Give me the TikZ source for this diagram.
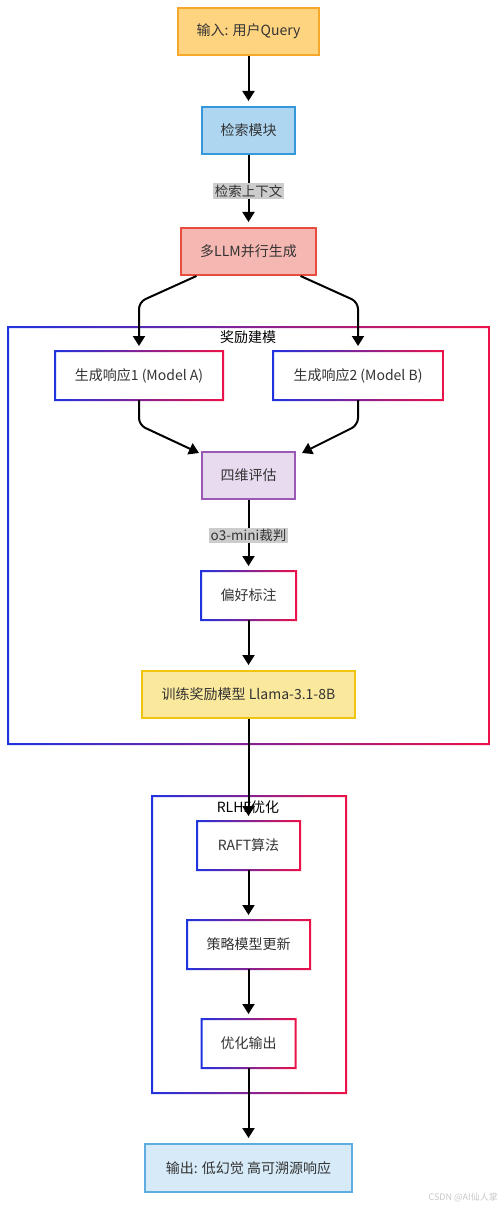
\documentclass[tikz,border=0pt]{standalone}
\usepackage{fontspec}
\setmainfont{Noto Sans CJK SC}
\usepackage{tikz}
\usetikzlibrary{calc}
\usetikzlibrary{arrows.meta}
\definecolor{textgray}{HTML}{333333}
\definecolor{gblue}{HTML}{1F33E0}
\definecolor{gred}{HTML}{EC1248}
\definecolor{labelgray}{HTML}{CCCCCC}
\def\thickness{2pt}
\tikzset{block/.style={rectangle, line width=\thickness, minimum height=47pt,
    inner sep=2pt, text=textgray, font=\fontsize{14pt}{16pt}\selectfont}}
\tikzset{plain block/.style={block, fill=white}}
\tikzset{flow/.style={line width=\thickness, -{Triangle[length=10pt,width=12pt]},
    shorten >=5pt}}
\tikzset{edge label/.style={fill=labelgray, inner sep=1.5pt, text=textgray,
    font=\fontsize{13.5pt}{15pt}\selectfont}}
\tikzset{frame title/.style={text=black, inner sep=1pt,
    font=\fontsize{14pt}{16pt}\selectfont}}
% ring shaded blue -> red, between two corners
\newcommand\gradframe[2]{%
  \shade[left color=gblue, right color=gred, even odd rule]
    ($(#1)+(-1pt,-1pt)$) rectangle ($(#2)+(1pt,1pt)$)
    ($(#1)+(1pt,1pt)$) rectangle ($(#2)+(-1pt,-1pt)$);}

\begin{document}
\begin{tikzpicture}[x=1pt,y=-1pt]

\useasboundingbox (0,0) rectangle (500,1206);

%% frames
\coordinate (rm_sw) at (8,744);
\coordinate (rm_ne) at (489,327);
\coordinate (rl_sw) at (152,1093);
\coordinate (rl_ne) at (346,796);
\gradframe{rm_sw}{rm_ne}
\gradframe{rl_sw}{rl_ne}
\node[frame title] (rm_title) at (248,337) {奖励建模};
\node[frame title] (rl_title) at (248,807) {RLHF优化};

%% top chain
\node[block, fill={rgb,255:red,255;green,212;blue,128}, draw={rgb,255:red,247;green,168;blue,40},
  minimum width=141pt] (input) at (248.5,31.5) {输入: 用户Query};
\node[block, fill={rgb,255:red,174;green,214;blue,241}, draw={rgb,255:red,52;green,152;blue,219},
  minimum width=93pt] (retrieve) at (248.5,130.5) {检索模块};
\node[block, fill={rgb,255:red,245;green,183;blue,177}, draw={rgb,255:red,231;green,76;blue,60},
  minimum width=135pt] (llm) at (248.5,251.5) {多LLM并行生成};

%% reward modelling
\node[plain block, minimum width=166pt] (resp_a) at (139,375.5) {生成响应1 (Model A)};
\node[plain block, minimum width=168pt] (resp_b) at (358,375.5) {生成响应2 (Model B)};
\node[block, fill={rgb,255:red,232;green,218;blue,239}, draw={rgb,255:red,155;green,89;blue,182},
  minimum width=93pt] (eval) at (248.5,475.5) {四维评估};
\node[plain block, minimum width=93pt] (pref) at (248.5,595.5) {偏好标注};
\node[block, fill={rgb,255:red,250;green,232;blue,157}, draw={rgb,255:red,241;green,196;blue,15},
  minimum width=213pt] (train) at (248.5,694.5) {训练奖励模型 Llama-3.1-8B};
\gradframe{resp_a.south west}{resp_a.north east}
\gradframe{resp_b.south west}{resp_b.north east}
\gradframe{pref.south west}{pref.north east}

%% RLHF
\node[plain block, minimum width=101pt] (raft) at (248.5,845.5) {RAFT算法};
\node[plain block, minimum width=121pt] (policy) at (248.5,944.5) {策略模型更新};
\node[plain block, minimum width=92pt] (opt_out) at (248.5,1043.5) {优化输出};
\gradframe{raft.south west}{raft.north east}
\gradframe{policy.south west}{policy.north east}
\gradframe{opt_out.south west}{opt_out.north east}

\node[block, fill={rgb,255:red,214;green,234;blue,248}, draw={rgb,255:red,93;green,173;blue,226},
  minimum width=207pt, minimum height=48pt] (output) at (248.5,1168) {输出: 低幻觉 高可溯源响应};

%% connectors
\draw[flow] (input) -- (retrieve);
\draw[flow] (retrieve) -- node[edge label] (ctx_label) {检索上下文} (llm);
\coordinate (llm_l) at ($(llm.south west)!0.12!(llm.south east)$);
\coordinate (llm_r) at ($(llm.south west)!0.88!(llm.south east)$);
\draw[flow, rounded corners=7pt] (llm_l) -- (resp_a.north |- 0,302) -- (resp_a.north);
\draw[flow, rounded corners=7pt] (llm_r) -- (resp_b.north |- 0,302) -- (resp_b.north);
\coordinate (eval_l) at (199,453);
\coordinate (eval_r) at (302,453);
\draw[flow, shorten >=0pt, rounded corners=7pt] (resp_a.south) -- (resp_a.south |- 0,425) -- (eval_l);
\draw[flow, shorten >=0pt, rounded corners=7pt] (resp_b.south) -- (resp_b.south |- 0,425) -- (eval_r);
\draw[flow] (eval) -- node[edge label] (judge_label) {o3-mini裁判} (pref);
\draw[flow] (pref) -- (train);
\draw[flow] (train) -- (raft);
\draw[flow] (raft) -- (policy);
\draw[flow] (policy) -- (opt_out);
\draw[flow] (opt_out) -- (output);

\node[anchor=east, text={rgb,255:red,200;green,200;blue,200}, inner sep=0pt,
  font=\fontsize{9pt}{10pt}\selectfont] (mark) at (498,1197) {CSDN @AI仙人掌};

%\draw (current bounding box.south west) rectangle (current bounding box.north east);
\end{tikzpicture}
\end{document}
